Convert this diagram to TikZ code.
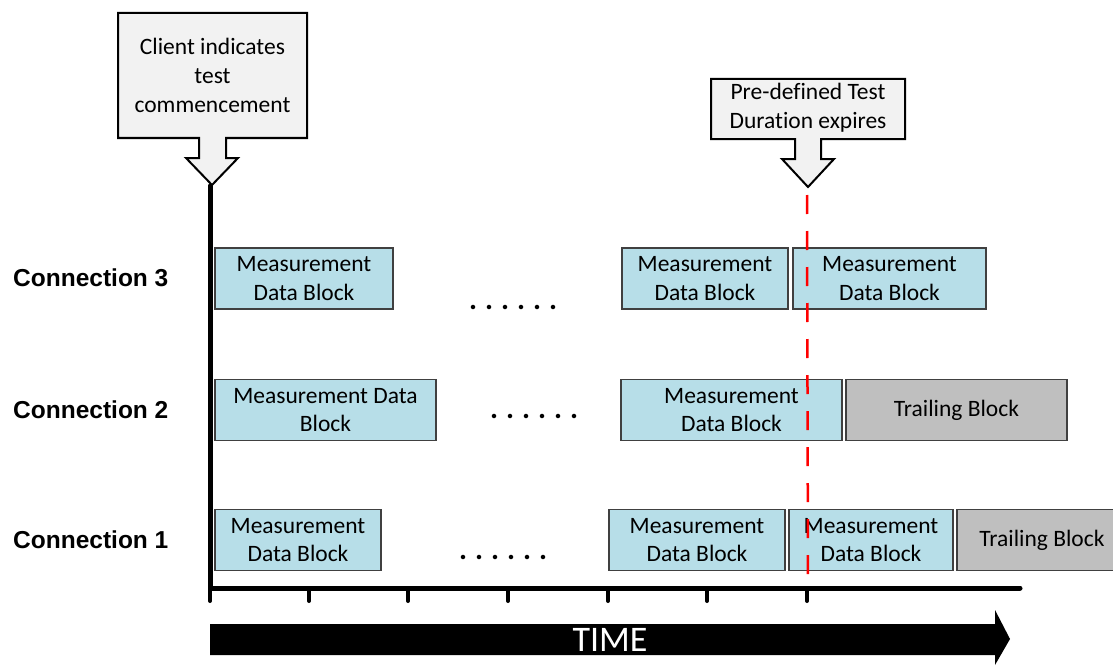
\documentclass[tikz,border=0pt]{standalone}
\usepackage{fontspec}
\setmainfont{Carlito}[Ligatures=NoCommon]
\newfontfamily\connfont{Liberation Sans}
\definecolor{blockblue}{HTML}{B7DEE8}
\definecolor{trailgray}{HTML}{BFBFBF}
\definecolor{calloutgray}{HTML}{F2F2F2}
\definecolor{edgegray}{HTML}{404040}
\newcommand{\dotrow}{.\hskip8pt.\hskip8pt.\hskip8pt.\hskip8pt.\hskip8pt.}
\tikzset{
  datablock/.style={draw=edgegray, line width=1.5pt, fill=blockblue, align=center, inner sep=0pt, minimum height=61pt, font=\fontsize{23.5}{28.5}\selectfont},
  trailblock/.style={datablock, fill=trailgray},
  connlabel/.style={anchor=west, inner sep=0pt, font=\connfont\bfseries\fontsize{24.5}{28}\selectfont},
  callout/.style={draw=black, line width=2pt, fill=calloutgray},
  callouttext/.style={align=center, font=\fontsize{23.5}{29}\selectfont},
  gapdots/.style={anchor=base west, inner sep=0pt, font=\bfseries\fontsize{30}{32}\selectfont},
}
\begin{document}
\begin{tikzpicture}[x=1pt,y=-1pt]
    \useasboundingbox (0,0) rectangle (1113,666);
    \clip (0,0) rectangle (1113,666);
    \draw[callout] (118,13) -- (307,13) -- (307,138) -- (226,138) -- (226,158) -- (238,158) -- (212,185) -- (186,158) -- (199,158) -- (199,138) -- (118,138) -- cycle;
    \node[callouttext] (start) at (212.5,75) {Client indicates\\test\\commencement};
    \draw[callout] (711,79) -- (905,79) -- (905,139) -- (821,139) -- (821,159) -- (834,159) -- (808,187) -- (782,159) -- (795,159) -- (795,139) -- (711,139) -- cycle;
    \node[callouttext] (expiry) at (808,108) {Pre-defined Test\\Duration expires};
    \coordinate (origin) at (210,588);
    \coordinate (yend) at (210,186);
    \coordinate (xend) at (1020,588);
    \draw[line width=5pt, line cap=round] (yend) -- (origin) -- (xend);
    \foreach \x in {210,309,408,508,608,707,807}
      \draw[line width=4pt, line cap=round] (\x,588) -- (\x,601);
    \node[connlabel] (conn3) at (13,278) {Connection 3};
    \node[connlabel] (conn2) at (13,410) {Connection 2};
    \node[connlabel] (conn1) at (13,540) {Connection 1};
    \node[datablock, minimum width=178pt] (c3a) at (304,278.5) {Measurement\\Data Block};
    \node[datablock, minimum width=166pt] (c3b) at (705,278.5) {Measurement\\Data Block};
    \node[datablock, minimum width=193pt] (c3c) at (889.5,278.5) {Measurement\\Data Block};
    \node[datablock, minimum width=221pt] (c2a) at (325.5,410) {Measurement Data\\Block};
    \node[datablock, minimum width=221pt] (c2b) at (731.5,410) {Measurement\\Data Block};
    \node[trailblock, minimum width=221pt] (c2t) at (956.5,410) {Trailing Block};
    \node[datablock, minimum width=166pt] (c1a) at (298,540) {Measurement\\Data Block};
    \node[datablock, minimum width=176pt] (c1b) at (697,540) {Measurement\\Data Block};
    \node[datablock, minimum width=164pt] (c1c) at (871,540) {Measurement\\Data Block};
    \node[trailblock, minimum width=170pt] (c1t) at (1042,540) {Trailing Block};
    \node[gapdots] (dots3) at (469,309) {\dotrow};
    \node[gapdots] (dots2) at (490,418) {\dotrow};
    \node[gapdots] (dots1) at (459,559) {\dotrow};
    \draw[red, line width=2.5pt, dash pattern=on 19pt off 17pt] (807,195) -- (origin -| expiry);
    \fill (210,624) -- (995,624) -- (995,610) -- (1010,639) -- (995,665) -- (995,655) -- (210,655) -- cycle;
    \node[text=white, font=\fontsize{36}{40}\selectfont] (time) at (610,640) {TIME};
  \end{tikzpicture}
\end{document}
